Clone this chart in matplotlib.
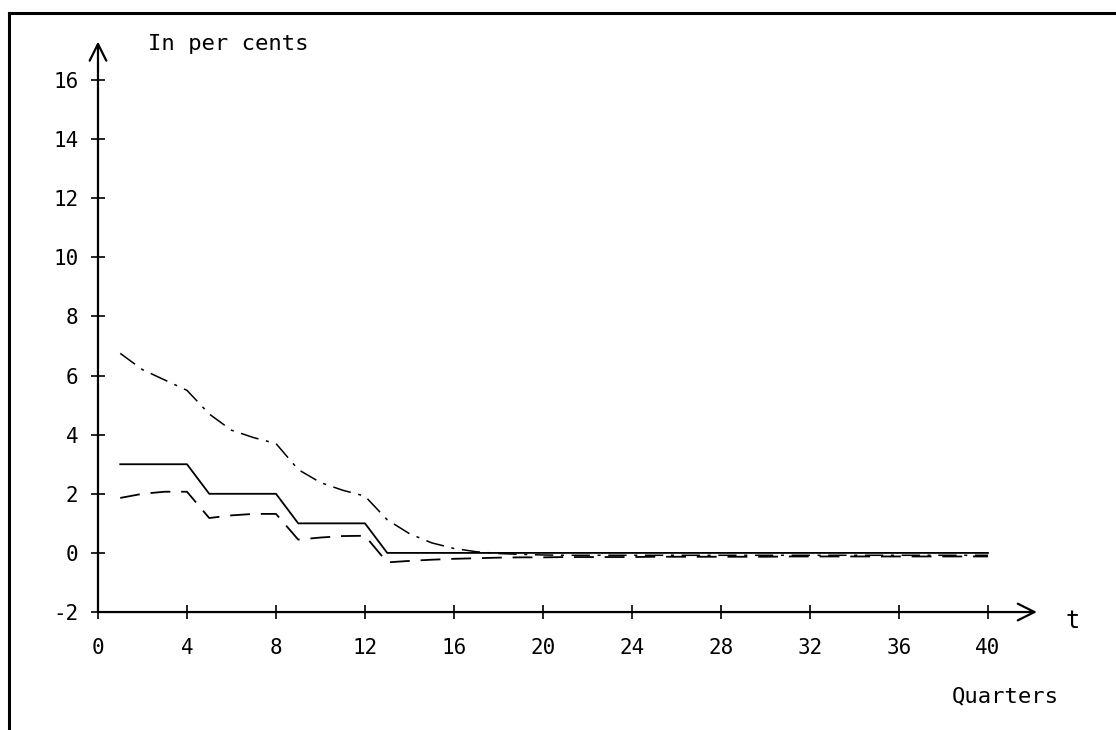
import matplotlib
matplotlib.use("Agg")
import matplotlib.pyplot as plt
from matplotlib.lines import Line2D

plt.rcParams["font.family"] = ["DejaVu Sans Mono"]
plt.rcParams["axes.unicode_minus"] = False

# quarters and the three series (per cent)
quarters = list(range(1, 41))
solid_vals = [3, 3, 3, 3, 2, 2, 2, 2, 1, 1, 1, 1,
              0, 0, 0, 0, 0, 0, 0, 0, 0, 0, 0, 0, 0, 0, 0, 0,
              0, 0, 0, 0, 0, 0, 0, 0, 0, 0, 0, 0]
dashed_vals = [1.86, 2.0, 2.07, 2.07, 1.18, 1.27, 1.32, 1.32,
               0.45, 0.52, 0.57, 0.58, -0.32, -0.27, -0.23, -0.2,
               -0.18, -0.16, -0.15, -0.15, -0.14, -0.14, -0.14, -0.14,
               -0.13, -0.13, -0.13, -0.13, -0.13, -0.13, -0.12, -0.12,
               -0.12, -0.12, -0.12, -0.12, -0.12, -0.12, -0.12, -0.12]
dashdot_vals = [6.75, 6.2, 5.85, 5.5, 4.7, 4.15, 3.9, 3.7,
                2.82, 2.38, 2.12, 1.92, 1.12, 0.65, 0.34, 0.15,
                0.04, -0.02, -0.05, -0.07, -0.08, -0.08, -0.08, -0.08,
                -0.08, -0.08, -0.08, -0.08, -0.08, -0.08, -0.08, -0.08,
                -0.08, -0.08, -0.08, -0.08, -0.08, -0.08, -0.08, -0.08]
x_ticks = list(range(0, 41, 4))
y_ticks = list(range(-2, 17, 2))

fig = plt.figure(figsize=(11.16, 7.3), dpi=100)
ax = fig.add_axes([0.0878, 0.1616, 0.8573, 0.7896])
ax.set_xlim(0, 43)
ax.set_ylim(-2, 17.5)

ax.plot(quarters, solid_vals, color="black", lw=1.3)
ax.plot(quarters, dashed_vals, color="black", lw=1.3, linestyle=(0, (11, 6)))
ax.plot(quarters, dashdot_vals, color="black", lw=1.1, linestyle=(0, (12, 5, 2, 5)))

for side in ["top", "right", "left", "bottom"]:
    ax.spines[side].set_visible(False)

# axes drawn as arrows
ax.annotate("", xy=(0, 17.3), xytext=(0, -2),
            arrowprops=dict(arrowstyle="->,head_length=1.2,head_width=0.6",
                            color="black", lw=1.6, shrinkA=0, shrinkB=0),
            annotation_clip=False)
ax.annotate("", xy=(42.2, -2), xytext=(0, -2),
            arrowprops=dict(arrowstyle="->,head_length=1.2,head_width=0.6",
                            color="black", lw=1.6, shrinkA=0, shrinkB=0),
            annotation_clip=False)

ax.set_xticks(x_ticks)
ax.set_yticks(y_ticks)
ax.tick_params(direction="inout", length=10, width=1.2, labelsize=15)
ax.tick_params(axis="x", pad=14)
ax.tick_params(axis="y", pad=9)

ax.text(2.25, 17.2, "In per cents", fontsize=16, va="center", ha="left")
ax.text(43.5, -2.3, "t", fontsize=17, va="center", ha="left", clip_on=False)
ax.text(43.2, -4.87, "Quarters", fontsize=16, va="center", ha="right", clip_on=False)

# scanned page frame
fig.add_artist(Line2D([0.008, 1.0], [0.982, 0.982], color="black", lw=2.2,
                      transform=fig.transFigure))
fig.add_artist(Line2D([0.008, 0.008], [0.0, 0.982], color="black", lw=2.2,
                      transform=fig.transFigure))

fig.savefig("out.png", dpi=100)
